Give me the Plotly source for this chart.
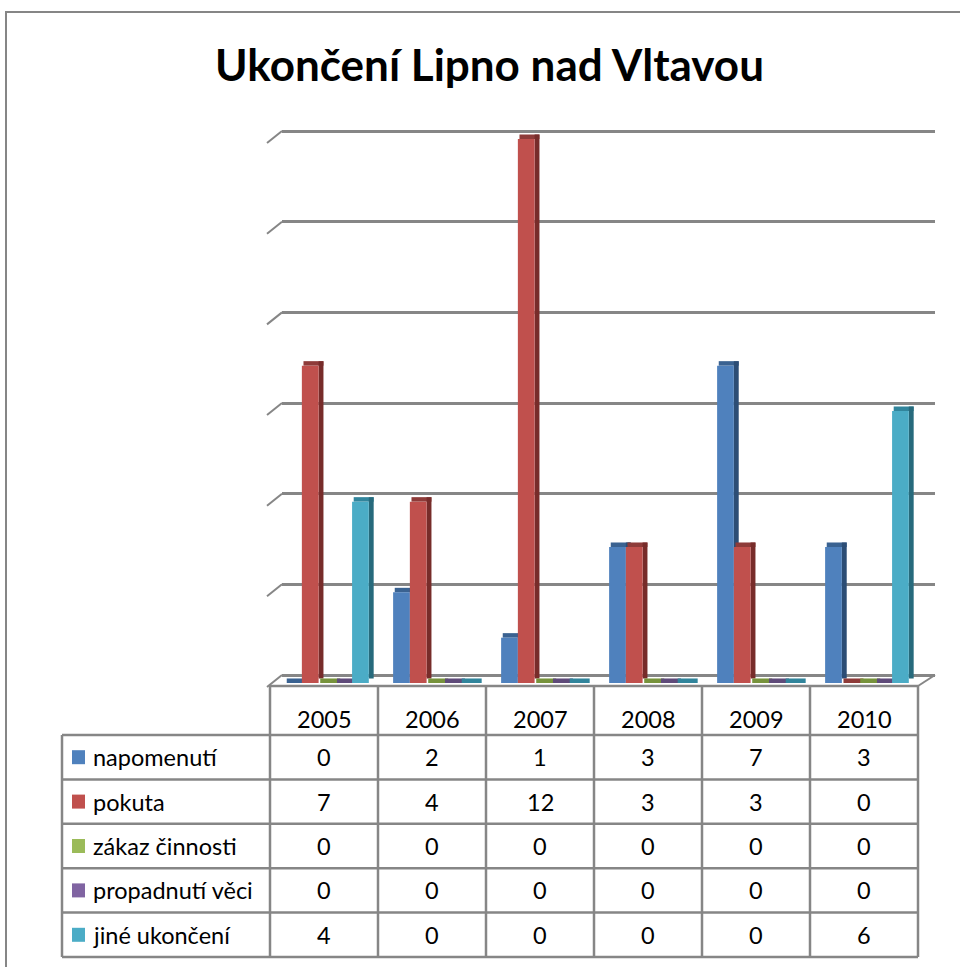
import plotly.graph_objects as go

years = ['2005', '2006', '2007', '2008', '2009', '2010']
series_names = ['napomenutí', 'pokuta', 'zákaz činnosti', 'propadnutí věci', 'jiné ukončení']
napomenuti = [0, 2, 1, 3, 7, 3]
pokuta = [7, 4, 12, 3, 3, 0]
zakaz = [0, 0, 0, 0, 0, 0]
propadnuti = [0, 0, 0, 0, 0, 0]
jine = [4, 0, 0, 0, 0, 6]
values = [napomenuti, pokuta, zakaz, propadnuti, jine]

# front / side / top colours for the fake 3D bars
front_colors = ['#4F81BD', '#C0504D', '#9BBB59', '#8064A2', '#4BACC6']
side_colors = ['#2C4D75', '#772C2A', '#5F7530', '#4D3B62', '#276A7C']
top_colors = ['#3A6291', '#8E3B39', '#77933C', '#5F4B7A', '#31859C']

W, H = 960, 967
UNIT = 45.33          # px per unit on the value axis
BACK_ZERO = 675       # y px of 0 on the back wall
FRONT_ZERO = 683      # y px of 0 at the bar fronts
GRAY = '#868686'
FONT = 'Lato'


def px(x):
    return x / W


def py(y):
    return 1 - y / H


fig = go.Figure()

# bars: top face, side face, front face for every series
bw = 0.155
depth = 0.1
for i, vals in enumerate(values):
    off = -0.36 + i * bw
    fig.add_trace(go.Bar(x=years, y=[depth] * len(years), base=vals, offset=off + 0.015, width=bw + 0.03,
                         marker=dict(color=top_colors[i], line=dict(width=0)),
                         xaxis='x2', yaxis='y2', showlegend=False, hoverinfo='skip'))
    fig.add_trace(go.Bar(x=years, y=vals, base=depth, offset=off + bw, width=0.045,
                         marker=dict(color=side_colors[i], line=dict(width=0)),
                         xaxis='x2', yaxis='y2', showlegend=False, hoverinfo='skip'))
    fig.add_trace(go.Bar(x=years, y=vals, offset=off, width=bw, name=series_names[i],
                         marker=dict(color=front_colors[i], line=dict(width=0)),
                         xaxis='x2', yaxis='y2', showlegend=False))

shapes = []
annotations = []

# back wall grid slashes on the left + floor right edge
for v in range(0, 13, 2):
    shapes.append(dict(type='line', xref='paper', yref='y', x0=px(282), x1=px(267),
                       y0=v, y1=v - 12 / UNIT, line=dict(color=GRAY, width=2)))
shapes.append(dict(type='line', xref='paper', yref='paper', x0=px(918), x1=px(935),
                   y0=py(686), y1=py(675), line=dict(color=GRAY, width=2)))

# outer chart border
shapes.append(dict(type='rect', xref='paper', yref='paper', x0=px(6), x1=px(990),
                   y0=py(12), y1=py(1000), line=dict(color=GRAY, width=2)))

# data table
col_left = 270
col_w = 108
leg_left = 62
head_top = 686
row_top = 735
row_h = 44.4
n_rows = len(series_names)
bottom = row_top + n_rows * row_h
col_edges = [col_left + k * col_w for k in range(len(years) + 1)]
row_edges = [row_top + k * row_h for k in range(n_rows + 1)]

line = dict(color=GRAY, width=2.5)
shapes.append(dict(type='line', xref='paper', yref='paper', x0=px(col_left), x1=px(col_edges[-1]),
                   y0=py(head_top), y1=py(head_top), line=line))
for ry in row_edges:
    shapes.append(dict(type='line', xref='paper', yref='paper', x0=px(leg_left), x1=px(col_edges[-1]),
                       y0=py(ry), y1=py(ry), line=line))
for cx in col_edges:
    shapes.append(dict(type='line', xref='paper', yref='paper', x0=px(cx), x1=px(cx),
                       y0=py(head_top), y1=py(bottom), line=line))
shapes.append(dict(type='line', xref='paper', yref='paper', x0=px(leg_left), x1=px(leg_left),
                   y0=py(row_top), y1=py(bottom), line=line))

tfont = dict(family=FONT, size=23.5, color='black')
for j, yr in enumerate(years):
    annotations.append(dict(x=px(col_left + (j + 0.5) * col_w), y=py(719),
                            xref='paper', yref='paper', text=yr, showarrow=False, font=tfont,
                            xanchor='center', yanchor='middle'))
for i, name in enumerate(series_names):
    cy = row_top + (i + 0.5) * row_h
    shapes.append(dict(type='rect', xref='paper', yref='paper', x0=px(72), x1=px(85),
                       y0=py(cy - 7), y1=py(cy + 7), fillcolor=front_colors[i], line=dict(width=0)))
    annotations.append(dict(x=px(91), y=py(cy), xref='paper', yref='paper', text=name,
                            xanchor='left', yanchor='middle', showarrow=False, font=tfont))
    for j, v in enumerate(values[i]):
        annotations.append(dict(x=px(col_left + (j + 0.5) * col_w), y=py(cy), xref='paper', yref='paper',
                                text=str(v), showarrow=False, font=tfont,
                                xanchor='center', yanchor='middle'))

# title
annotations.append(dict(x=px(490), y=py(64), xref='paper', yref='paper',
                        text='<b>Ukončení Lipno nad Vltavou</b>', showarrow=False,
                        xanchor='center', yanchor='middle',
                        font=dict(family=FONT, size=44, color='black')))

fig.update_layout(
    width=W, height=H,
    margin=dict(l=0, r=0, t=0, b=0),
    paper_bgcolor='white',
    plot_bgcolor='rgba(0,0,0,0)',
    barmode='overlay',
    showlegend=False,
    shapes=shapes,
    annotations=annotations,
    # back wall grid
    xaxis=dict(domain=[px(282), px(935)], range=[0, 1], visible=False, fixedrange=True),
    yaxis=dict(domain=[py(BACK_ZERO + 0.5 * UNIT), py(BACK_ZERO - 13 * UNIT)], range=[-0.5, 13],
               dtick=2, tick0=0, showgrid=True, gridcolor=GRAY, gridwidth=2.5,
               zeroline=False, showticklabels=False, ticks='', showline=False),
    # bars
    xaxis2=dict(domain=[px(col_left), px(col_edges[-1])], range=[-0.5, 5.5], type='category',
                visible=False, anchor='y2'),
    yaxis2=dict(domain=[py(FRONT_ZERO), py(FRONT_ZERO - 13 * UNIT)], range=[0, 13],
                visible=False, anchor='x2'),
)

# page has a default 8px body margin; drop it so the figure sits at the window origin
fig.write_html('out.html', config={'displayModeBar': False},
               post_script="document.body.style.margin='0';")
